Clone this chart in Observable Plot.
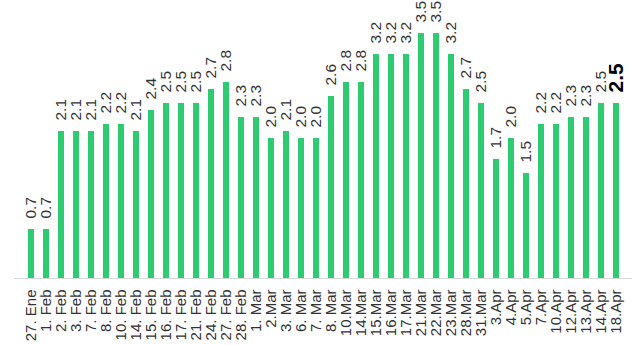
<!DOCTYPE html>
<html>
<head>
<meta charset="utf-8">
<script src="https://cdn.jsdelivr.net/npm/d3@7"></script>
<script src="https://cdn.jsdelivr.net/npm/@observablehq/plot@0.6"></script>
<style>
  html, body { margin: 0; padding: 0; background: #fff; }
  #chart svg { display: block; }
</style>
</head>
<body>
<div id="chart"></div>
<script>
// Fechas de cada medición
const dates = [
  "27. Ene", "1. Feb", "2. Feb", "3. Feb", "7. Feb", "8. Feb", "10. Feb", "14. Feb",
  "15. Feb", "16. Feb", "17. Feb", "21. Feb", "24. Feb", "27. Feb", "28. Feb",
  "1. Mar", "2.Mar", "3. Mar", "6. Mar", "7. Mar", "8. Mar", "10.Mar", "14.Mar",
  "15.Mar", "16.Mar", "17.Mar", "21.Mar", "22.Mar", "23.Mar", "28.Mar", "31.Mar",
  "3.Apr", "4.Apr", "5.Apr", "7.Apr", "10.Apr", "12.Apr", "13.Apr", "14.Apr", "18.Apr"
];

// Valor registrado en cada fecha
const values = [
  0.7, 0.7, 2.1, 2.1, 2.1, 2.2, 2.2, 2.1, 2.4, 2.5, 2.5, 2.5, 2.7, 2.8, 2.3,
  2.3, 2.0, 2.1, 2.0, 2.0, 2.6, 2.8, 2.8, 3.2, 3.2, 3.2, 3.5, 3.5, 3.2, 2.7, 2.5,
  1.7, 2.0, 1.5, 2.2, 2.2, 2.3, 2.3, 2.5, 2.5
];

const data = dates.map((d, i) => ({date: d, value: values[i], last: i === dates.length - 1}));

const font = "'Liberation Sans', Arial, Helvetica, sans-serif";

const chart = Plot.plot({
  width: 641,
  height: 345,
  marginTop: 33,
  marginBottom: 67,
  marginLeft: 8.6,
  marginRight: 3.5,
  style: {fontFamily: font, background: "#fff"},
  x: {domain: dates, padding: 0.6, label: null},
  y: {domain: [0, 3.5], axis: null},
  marks: [
    Plot.barY(data, {x: "date", y: "value", fill: "#2ecc71"}),
    Plot.ruleY([0], {stroke: "#d8d8d8", strokeWidth: 1, insetLeft: 5.4, insetRight: 5.5}),
    Plot.text(data.filter(d => !d.last), {
      x: "date", y: "value", text: d => d.value.toFixed(1),
      rotate: -90, textAnchor: "start", lineAnchor: "middle",
      dy: -11, fontSize: 15.5, fill: "#333"
    }),
    Plot.text(data.filter(d => d.last), {
      x: "date", y: "value", text: d => d.value.toFixed(1),
      rotate: -90, textAnchor: "start", lineAnchor: "middle",
      dy: -11, fontSize: 21, fontWeight: "bold", fill: "#000"
    }),
    Plot.axisX({
      tickRotate: -90, tickSize: 0, tickPadding: 11,
      fontSize: 15, color: "#333", label: null
    })
  ]
});

document.getElementById("chart").appendChild(chart);
</script>
</body>
</html>
